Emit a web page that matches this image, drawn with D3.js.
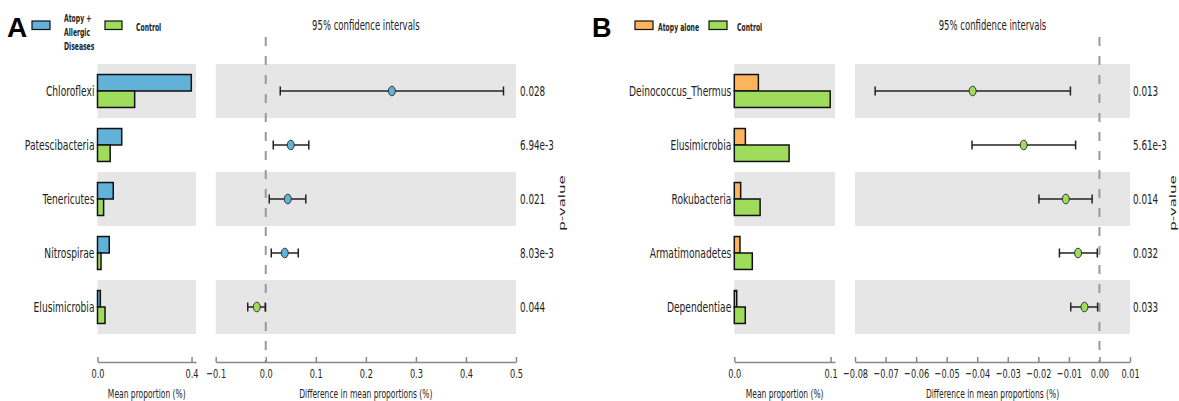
<!DOCTYPE html>
<html lang="en">
<head>
  <meta charset="UTF-8">
  <title>Extended error bar plots</title>
  <script src="https://d3js.org/d3.v7.min.js"></script>
  <style>
    body { margin: 0; background: #fff; }
    text { font-family: "DejaVu Sans", sans-serif; fill: #222; }
  </style>
</head>
<body>
  <div class="main"></div>
<script>
  // ---- data ----
  // panel A
  const taxaA = ["Chloroflexi", "Patescibacteria", "Tenericutes", "Nitrospirae", "Elusimicrobia"];
  const atopyAllergicMean = [0.399, 0.103, 0.067, 0.050, 0.012];
  const controlMeanA = [0.158, 0.054, 0.026, 0.015, 0.032];
  const diffA = [0.252, 0.050, 0.044, 0.038, -0.018];
  const ciLowA = [0.029, 0.015, 0.007, 0.011, -0.036];
  const ciHighA = [0.475, 0.086, 0.080, 0.065, -0.001];
  const pValuesA = ["0.028", "6.94e-3", "0.021", "8.03e-3", "0.044"];
  const meanTicksA = [0, 0.4];
  const diffTicksA = [-0.1, 0, 0.1, 0.2, 0.3, 0.4, 0.5];

  // panel B
  const taxaB = ["Deinococcus_Thermus", "Elusimicrobia", "Rokubacteria", "Armatimonadetes", "Dependentiae"];
  const atopyAloneMean = [0.025, 0.0115, 0.0066, 0.0059, 0.0025];
  const controlMeanB = [0.0996, 0.0569, 0.0268, 0.0187, 0.0114];
  const diffB = [-0.0415, -0.0248, -0.011, -0.007, -0.0049];
  const ciLowB = [-0.0734, -0.0417, -0.0198, -0.0131, -0.0094];
  const ciHighB = [-0.0095, -0.0078, -0.0024, -0.0007, -0.0006];
  const pValuesB = ["0.013", "5.61e-3", "0.014", "0.032", "0.033"];
  const meanTicksB = [0, 0.1];
  const diffTicksB = [-0.08, -0.07, -0.06, -0.05, -0.04, -0.03, -0.02, -0.01, 0, 0.01];

  const blue = "#62b1d8", green = "#9fdc5c", orange = "#fcb55e", band = "#e6e6e6";
  const SX = 0.63; // the original figure is squeezed horizontally

  let width = 1179;
  let height = 401;
  let svg = d3.select(".main").append("svg").attr("width", width).attr("height", height).style("display", "block");

  function label(g, x, y, s, size, anchor, weight, sx) {
    return g.append("text")
      .attr("transform", "translate(" + x + "," + y + ") scale(" + (sx || SX) + ",1)")
      .attr("text-anchor", anchor || "start")
      .attr("dy", "0.35em")
      .style("font-size", size + "px")
      .style("font-weight", weight || "normal")
      .text(s);
  }

  function drawPanel(p) {
    let g = svg.append("g");
    let y = d3.scaleBand().domain(p.taxa).range([64, 334]);
    let meanMax = d3.max(p.group.concat(p.control)) * 1.05;
    let xMean = d3.scaleLinear().domain([0, meanMax]).range(p.meanRange);
    let xDiff = d3.scaleLinear().domain(d3.extent(p.diffTicks)).range(p.diffRange);
    let bh = y.bandwidth() * 0.305;

    // grey bands on alternate rows
    p.taxa.forEach(function(t, i) {
      if (i % 2 == 0) {
        g.append("rect").attr("x", xMean.range()[0]).attr("y", y(t)).attr("width", xMean.range()[1] - xMean.range()[0]).attr("height", y.bandwidth()).style("fill", band);
        g.append("rect").attr("x", xDiff.range()[0]).attr("y", y(t)).attr("width", xDiff.range()[1] - xDiff.range()[0]).attr("height", y.bandwidth()).style("fill", band);
      }
    });

    // mean proportion bars
    p.taxa.forEach(function(t, i) {
      let cy = y(t) + y.bandwidth() / 2;
      g.append("rect").attr("x", xMean(0)).attr("y", cy - bh).attr("width", xMean(p.group[i]) - xMean(0)).attr("height", bh)
        .style("fill", p.groupColor).style("stroke", "#111").style("stroke-width", 1.5);
      g.append("rect").attr("x", xMean(0)).attr("y", cy).attr("width", xMean(p.control[i]) - xMean(0)).attr("height", bh)
        .style("fill", green).style("stroke", "#111").style("stroke-width", 1.5);
      label(g, xMean(0) - 3, cy, t, 14.5, "end");
      label(g, p.pX, cy, p.pValues[i], 14, "start");
    });

    // zero line
    g.append("line").attr("x1", xDiff(0)).attr("x2", xDiff(0)).attr("y1", 37).attr("y2", 362)
      .style("stroke", "#999").style("stroke-width", 2).style("stroke-dasharray", "9,10");

    // confidence intervals
    p.taxa.forEach(function(t, i) {
      let cy = y(t) + y.bandwidth() / 2;
      g.append("line").attr("x1", xDiff(p.low[i])).attr("x2", xDiff(p.high[i])).attr("y1", cy).attr("y2", cy).style("stroke", "#222").style("stroke-width", 1.5);
      [p.low[i], p.high[i]].forEach(function(v) {
        g.append("line").attr("x1", xDiff(v)).attr("x2", xDiff(v)).attr("y1", cy - 4.5).attr("y2", cy + 4.5).style("stroke", "#222").style("stroke-width", 1.5);
      });
      g.append("ellipse").attr("cx", xDiff(p.diff[i])).attr("cy", cy).attr("rx", 3.5).attr("ry", 4.8)
        .style("fill", p.diff[i] > 0 ? p.groupColor : green).style("stroke", "#333").style("stroke-width", 1);
    });

    // axes
    let axMean = g.append("g").attr("transform", "translate(0,362)")
      .call(d3.axisBottom(xMean).tickValues(p.meanTicks).tickFormat(d3.format(".1f")).tickSizeInner(-5).tickSizeOuter(0).tickPadding(7));
    let axDiff = g.append("g").attr("transform", "translate(0,362)")
      .call(d3.axisBottom(xDiff).tickValues(p.diffTicks).tickFormat(d3.format(p.diffFormat)).tickSizeInner(-5).tickSizeOuter(0).tickPadding(7));
    [axMean, axDiff].forEach(function(a) {
      a.selectAll("path, line").style("stroke", "#888").style("stroke-width", 1.5);
      a.selectAll("text").attr("transform", "scale(" + SX + ",1)").style("font-size", "13px").style("font-family", "DejaVu Sans").style("fill", "#222");
    });

    label(g, (p.meanRange[0] + p.meanRange[1]) / 2, 394, "Mean proportion (%)", 12, "middle");
    label(g, (p.diffRange[0] + p.diffRange[1]) / 2, 394, "Difference in mean proportions (%)", 12, "middle");
    label(g, (p.diffRange[0] + p.diffRange[1]) / 2, 25, "95% confidence intervals", 13.5, "middle");

    g.append("text").attr("transform", "translate(" + p.pLabelX + ",203) scale(" + SX + ",1) rotate(-90)")
      .attr("text-anchor", "middle").attr("dy", "0.35em").style("font-size", "15px").text("p-value");
  }

  drawPanel({
    taxa: taxaA, group: atopyAllergicMean, control: controlMeanA, diff: diffA, low: ciLowA, high: ciHighA,
    pValues: pValuesA, meanTicks: meanTicksA, diffTicks: diffTicksA, diffFormat: ".1f", groupColor: blue,
    meanRange: [97.5, 196], diffRange: [215.7, 516], pX: 520, pLabelX: 562
  });
  drawPanel({
    taxa: taxaB, group: atopyAloneMean, control: controlMeanB, diff: diffB, low: ciLowB, high: ciHighB,
    pValues: pValuesB, meanTicks: meanTicksB, diffTicks: diffTicksB, diffFormat: ".2f", groupColor: orange,
    meanRange: [734.3, 835], diffRange: [855, 1130], pX: 1133, pLabelX: 1173
  });

  // panel letters and legends
  svg.append("text").attr("x", 7).attr("y", 37).style("font-family", "Liberation Sans").style("font-weight", "bold").style("font-size", "28px").style("fill", "#000").text("A");
  svg.append("text").attr("x", 592).attr("y", 37).style("font-family", "Liberation Sans").style("font-weight", "bold").style("font-size", "27px").style("fill", "#000").text("B");

  let legend = svg.append("g");
  legend.append("rect").attr("x", 32).attr("y", 21).attr("width", 18).attr("height", 8.5).style("fill", blue).style("stroke", "#111").style("stroke-width", 1.2);
  ["Atopy +", "Allergic", "Diseases"].forEach(function(s, i) {
    label(legend, 64, 18.5 + i * 14, s, 10.5, "start", "bold", 0.58);
  });
  legend.append("rect").attr("x", 105).attr("y", 21).attr("width", 17).attr("height", 8.5).style("fill", green).style("stroke", "#111").style("stroke-width", 1.2);
  label(legend, 136, 27, "Control", 10.5, "start", "bold", 0.58);

  legend.append("rect").attr("x", 635).attr("y", 21).attr("width", 18).attr("height", 8.5).style("fill", orange).style("stroke", "#111").style("stroke-width", 1.2);
  label(legend, 658, 27, "Atopy alone", 10.5, "start", "bold", 0.58);
  legend.append("rect").attr("x", 709).attr("y", 21).attr("width", 18).attr("height", 8.5).style("fill", green).style("stroke", "#111").style("stroke-width", 1.2);
  label(legend, 737, 27, "Control", 10.5, "start", "bold", 0.58);
</script>
</body>
</html>
